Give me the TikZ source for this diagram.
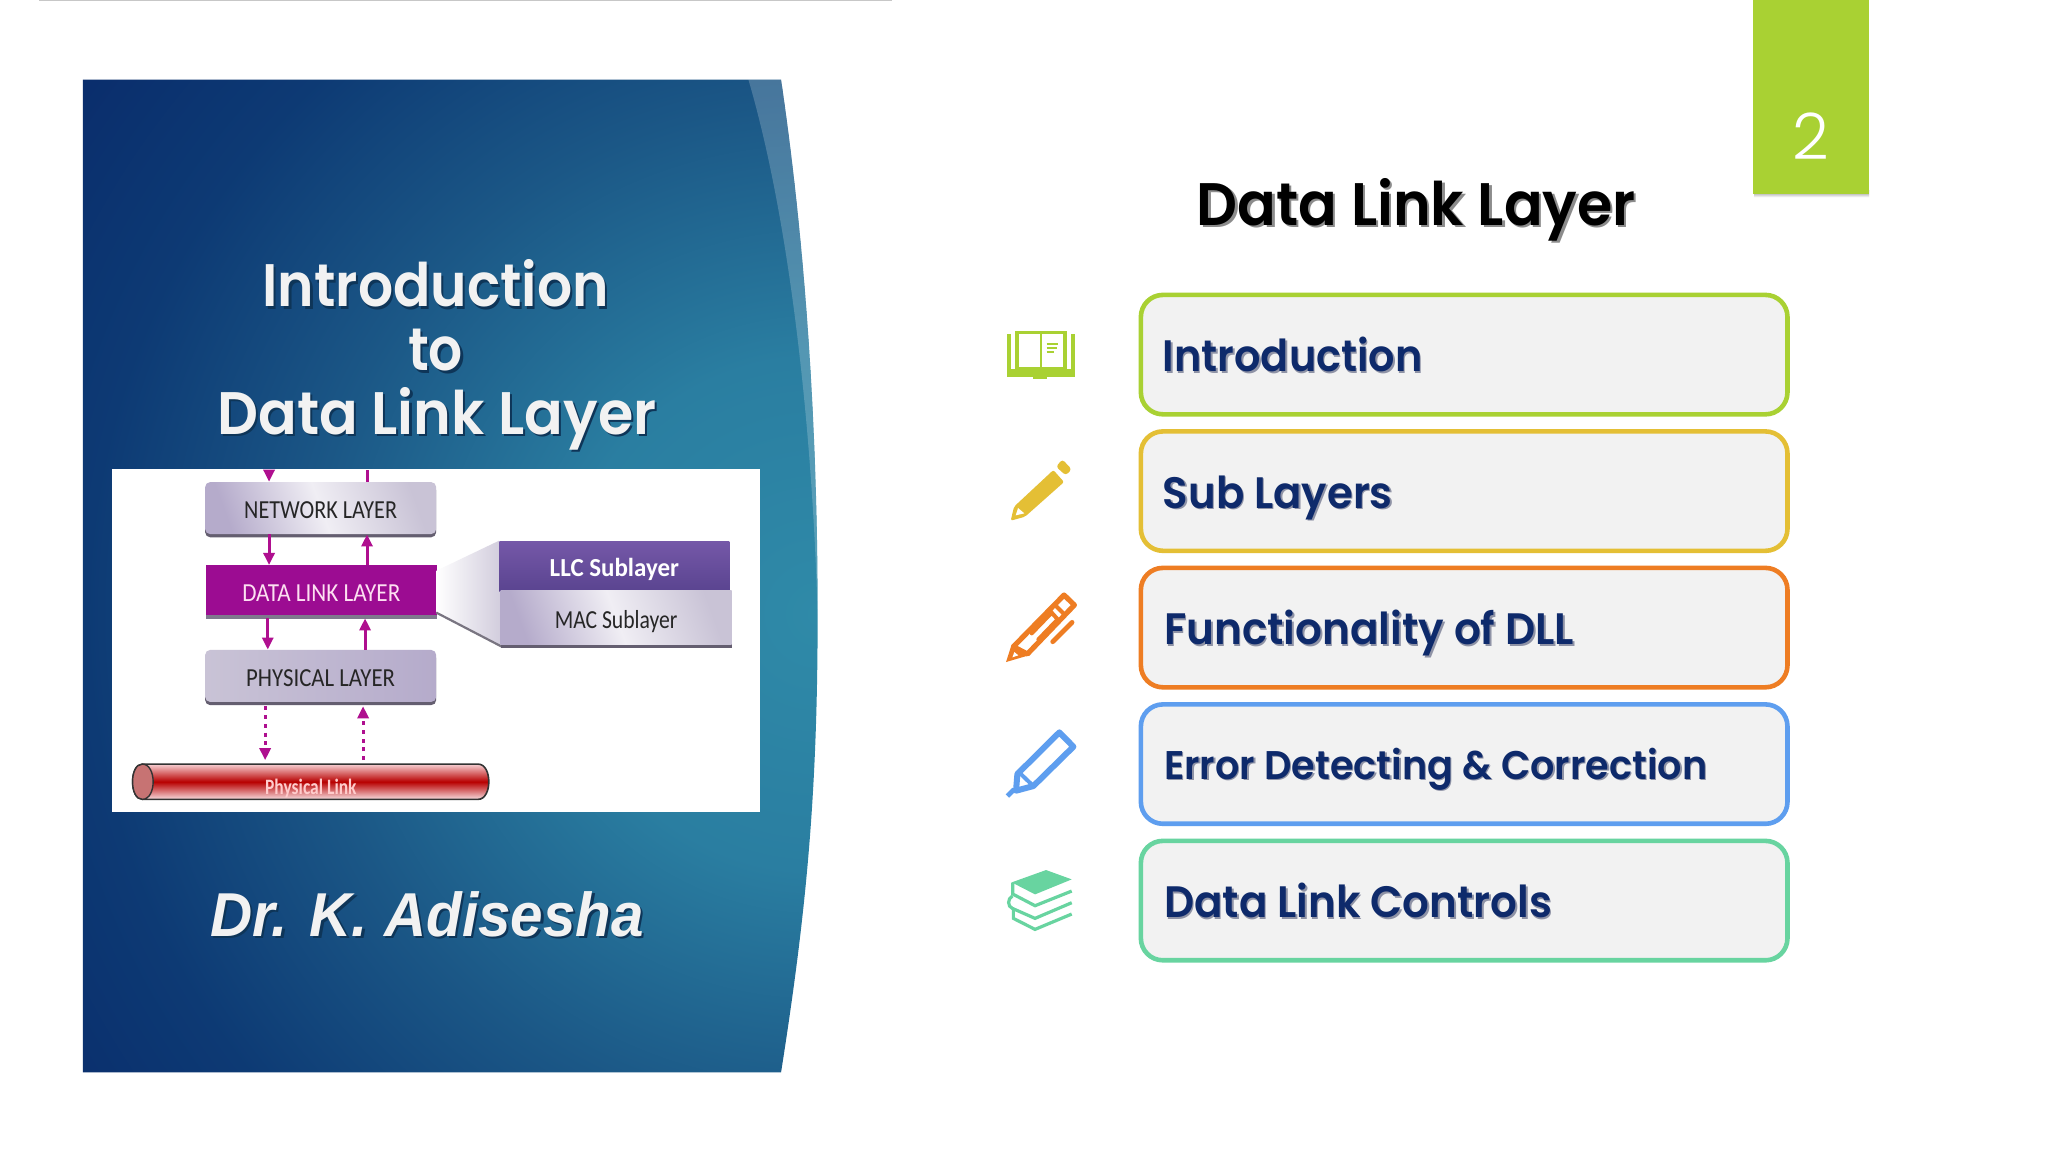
\documentclass[tikz,border=0pt]{standalone}
\usepackage{fontspec}
\usepackage{graphicx}
\usetikzlibrary{arrows.meta,shadows,calc}
\newfontfamily\pop{Poppins SemiBold}
\newfontfamily\popl{Poppins Light}
\newfontfamily\lib{Liberation Sans}
\newfontfamily\carl{Carlito}
\newlength\ovu \setlength\ovu{0.65306pt}
\newcommand\fw[2]{\resizebox{\dimexpr #1\ovu\relax}{\height}{#2}}
\newcommand\shd[4]{\rlap{\raisebox{-#3}{\hspace{#2}\textcolor{#1}{#4}}}#4}
\newcommand\lowr[1]{\raisebox{-5.4pt}[0pt][0pt]{#1}}
\definecolor{cA}{HTML}{A9D133}
\definecolor{cB}{HTML}{E4BF35}
\definecolor{cC}{HTML}{EE7D23}
\definecolor{cD}{HTML}{5E9EEF}
\definecolor{cE}{HTML}{68D4A0}
\definecolor{boxfill}{HTML}{F2F2F2}
\definecolor{navy}{HTML}{0E2A6B}
\definecolor{navyshadow}{HTML}{8F93A6}
\definecolor{arrowm}{HTML}{AF0F8F}
\definecolor{wshadow}{HTML}{0E3558}
\definecolor{lil}{HTML}{C9C3D6}
\definecolor{lilb}{HTML}{B5ABCB}
\definecolor{lilc}{HTML}{F0EEF4}
\definecolor{pa}{HTML}{2F8AA8}
\definecolor{pb}{HTML}{2A7EA1}
\definecolor{pc}{HTML}{1B5786}
\definecolor{pd}{HTML}{0D3A74}
\definecolor{pe}{HTML}{0A2D6C}
\definecolor{llct}{HTML}{7558A8}
\definecolor{llcb}{HTML}{5A4490}
\definecolor{dllc}{HTML}{9C0C92}
\pgfdeclareradialshading{panelrad}{\pgfpointorigin}{%
 color(0bp)=(pa);
 color(7bp)=(pb);
 color(14bp)=(pc);
 color(20bp)=(pd);
 color(25bp)=(pe);
 color(50bp)=(pe)}
\tikzset{
 itembox/.style={draw=#1,fill=boxfill,line width=2.3pt,rounded corners=11pt,minimum width=325.6pt-2.3pt,minimum height=62pt-2.3pt,inner sep=0pt},
 itemtext/.style={anchor=base west,inner sep=0pt,text=navy,font=\pop\fontsize{22}{26}\selectfont},
 headtext/.style={anchor=base,inner sep=0pt,text=boxfill,font=\pop\fontsize{30}{36}\selectfont},
 layerbox/.style={rounded corners=2.5pt,left color=lil,right color=lilb,middle color=lilc,shading angle=-70,
   drop shadow={shadow xshift=0pt,shadow yshift=-1.6pt,opacity=1,fill=black!45!lilb},
   minimum width=115pt,minimum height=26pt,inner sep=0pt,font=\carl\fontsize{13}{15}\selectfont,text=black!85},
 flow/.style={draw=arrowm,line width=1.5pt,-{Triangle[width=5.5pt,length=6pt]}},
 dotflow/.style={flow,line width=1.6pt,dash pattern=on 2pt off 2.4pt},
 zoomA/.style={x=0.166667pt,y=-0.166667pt,shift={(2970,900)}},
 zoomB/.style={x=0.166667pt,y=-0.166667pt,shift={(2970,2100)}},
}
\begin{document}
\begin{tikzpicture}[x=0.65306pt,y=-0.65306pt]
\useasboundingbox (0,0) rectangle (1568,882);
\fill[white] (0,0) rectangle (1568,882);
\draw[black!22,line width=0.8pt] (30,0.4) -- (683,0.4);
% left panel
\begin{scope}
\clip (63.5,61) -- (598,61) .. controls (617,190) and (626,330) .. (626,470) .. controls (626,610) and (617,700) .. (598,821) -- (63.5,821) -- cycle;
\shade[shading=panelrad] (626,470) circle (700);
\fill[white,opacity=0.2] (573,61) -- (598,61) .. controls (617,190) and (626,330) .. (626,470) .. controls (622,330) and (605,170) .. (573,61) -- cycle;
\end{scope}
\node[headtext] (h1) at (333.5,235) {\fw{265}{\shd{wshadow}{1.2pt}{1.2pt}{Introduction}}};
\node[headtext] (h2) at (333.5,284) {\fw{42}{\shd{wshadow}{1.2pt}{1.2pt}{to}}};
\node[headtext] (h3) at (334.5,332.5) {\fw{336}{\shd{wshadow}{1.2pt}{1.2pt}{Data Link Layer}}};
% picture inset
\fill[white] (86,359) rectangle (582,622);
\node[layerbox] (net) at (245.5,389) [minimum width=115.5pt] {\lowr{\fw{117}{NETWORK LAYER}}};
\node[layerbox,fill=none,shading=axis,left color=lil,right color=lilb] (phy) at (245.5,517.5) [minimum width=115.5pt] {\lowr{\fw{114}{PHYSICAL LAYER}}};
\node[draw=none,fill=dllc,rounded corners=0pt,minimum width=115.5pt,minimum height=25pt,inner sep=0pt,text=white!88!magenta,font=\carl\fontsize{13}{15}\selectfont,
   drop shadow={shadow xshift=0pt,shadow yshift=-1.6pt,opacity=1,fill=black!30!lilb}] (dll) at (246,452) {\lowr{\fw{121}{DATA LINK LAYER}}};
\coordinate (wa) at (334,437);
\coordinate (wb) at (334,469);
\shade[left color=white,right color=lil!85!white] (wa) -- (382,414) -- (384,495) -- (wb) -- cycle;
\draw[black!40!lil,line width=1.1pt] (wb) -- (384,495);
\node[draw=none,top color=llct,bottom color=llcb,minimum width=115pt,minimum height=25pt,inner sep=0pt,text=white,font=\carl\bfseries\fontsize{13}{15}\selectfont,anchor=north west] (llc) at (382,414) {\lowr{\fw{99}{LLC Sublayer}}};
\node[layerbox,rounded corners=0pt,anchor=north west,minimum width=115.5pt,minimum height=27pt] (mac) at (383,452) {\lowr{\fw{94}{MAC Sublayer}}};
\coordinate (x1) at (206,360);
\coordinate (x2) at (281,360);
\coordinate (x3) at (205,360);
\coordinate (x4) at (279.5,360);
\coordinate (x5) at (203,582);
\coordinate (x6) at (278,582);
\draw[flow] (x1) -- (x1 |- net.north);
\draw[draw=arrowm,line width=1.5pt] (x2) -- (x2 |- net.north);
\draw[flow] (x1 |- net.south) -- (x1 |- dll.north);
\draw[flow] (x2 |- dll.north) -- (x2 |- net.south);
\draw[flow] (x3 |- dll.south) ++(0,2) -- (x3 |- phy.north);
\draw[flow] (x4 |- phy.north) -- ($(x4 |- dll.south)+(0,2)$);
\draw[dotflow] ($(x5 |- phy.south)+(0,3)$) -- (x5);
\draw[dotflow] (x6) -- ($(x6 |- phy.south)+(0,3)$);
% physical link cylinder
\shade[top color=lil!50!red!30!white,bottom color=lil!60!red!25!white,middle color=red!72!black,draw=black!80,line width=0.8pt]
  (109,585) -- (366,585) .. controls (377,585) and (377,612) .. (366,612) -- (109,612) .. controls (99,612) and (99,585) .. (109,585) -- cycle;
\draw[fill=red!60!black!55!white,draw=black!80,line width=0.7pt] (109,585) .. controls (99,585) and (99,612) .. (109,612) .. controls (120,612) and (120,585) .. (109,585) -- cycle;
\node[inner sep=0pt,text=white!80!red,font=\carl\bfseries\fontsize{11}{13}\selectfont] (plink) at (238,604) {\fw{70}{Physical Link}};
% author
\node[anchor=base,inner sep=0pt,text=boxfill,font=\lib\bfseries\itshape\fontsize{31}{36}\selectfont] (auth) at (327,717) {\fw{332}{\shd{wshadow}{1.2pt}{1.2pt}{Dr. K. Adisesha}}};
% page number tab
\shade[top color=black!45,bottom color=white] (1343,146) rectangle (1431,151);
\node[fill=cA,minimum width=58.1pt,minimum height=98pt,inner sep=0pt,anchor=north west] (tab) at (1342,-2) {};
\node[text=white,inner sep=0pt,font=\popl\fontsize{32}{36}\selectfont] (num) at (1386,104) {2};
% title
\node[anchor=base west,inner sep=0pt,text=black,font=\pop\fontsize{30}{36}\selectfont] (title) at (916,172.5) {\fw{336}{\shd{black!45}{1.2pt}{1.2pt}{Data Link Layer}}};
% item boxes
\node[itembox=cA] (b1) at (1121,271.5) {};
\node[itembox=cB] (b2) at (1121,376) {};
\node[itembox=cC] (b3) at (1121,480.5) {};
\node[itembox=cD] (b4) at (1121,585) {};
\node[itembox=cE] (b5) at (1121,689.5) {};
\node[itemtext] (t1) at (890,284.5) {\fw{199}{\shd{navyshadow}{0.8pt}{0.8pt}{Introduction}}};
\node[itemtext] (t2) at (890,389) {\fw{176}{\shd{navyshadow}{0.8pt}{0.8pt}{Sub Layers}}};
\node[itemtext] (t3) at (891,493.5) {\fw{314}{\shd{navyshadow}{0.8pt}{0.8pt}{Functionality of DLL}}};
\node[itemtext,font=\pop\fontsize{20}{24}\selectfont] (t4) at (891,596.5) {\fw{416}{\shd{navyshadow}{0.8pt}{0.8pt}{Error Detecting \& Correction}}};
\node[itemtext] (t5) at (891,702.5) {\fw{297}{\shd{navyshadow}{0.8pt}{0.8pt}{Data Link Controls}}};
% icon: open book
\begin{scope}[zoomA]
\draw[cA,line width=1.8pt] (80,97) rectangle (225,205);
\draw[cA,line width=1.1pt] (152,97) -- (152,205);
\draw[cA,line width=1.9pt] (57,103) -- (57,226) -- (248,226) -- (248,103);
\fill[cA] (62,207) rectangle (243,226);
\fill[cA] (130,230) rectangle (172,238);
\draw[cA,line width=0.9pt] (170,131) -- (204,131) (170,144) -- (200,144) (170,157) -- (192,157);
% icon: pencil
\fill[cB,rounded corners=1pt] (62,662) -- (72,620) -- (190,510) -- (222,546) -- (105,650) -- cycle;
\fill[white] (77,646) -- (84,624) -- (103,640) -- cycle;
\fill[cB,rounded corners=1.5pt] (198,500) -- (217,478) -- (245,508) -- (227,526) -- cycle;
% icon: pen
\begin{scope}[cC]
\draw[line width=2.6pt,line join=round] (70,1040) -- (222,885) -- (253,915) -- (112,1062) -- cycle;
\fill[line join=round] (48,1086) -- (64,1036) -- (116,1066) -- cycle;
\fill[white] (67,1072) -- (73,1056) -- (85,1066) -- cycle;
\draw[line width=2.4pt,line cap=round] (188,1025) -- (246,967);
\draw[line width=2pt,line cap=round] (125,1000) -- (185,938) -- (203,958) -- (145,1018);
\draw[line width=2pt] (195,915) -- (225,945);
\end{scope}
\end{scope}
% icon: marker
\begin{scope}[zoomB,cD]
\draw[line width=3pt,line join=round] (208,97) -- (250,140) -- (130,258) -- (78,272) -- (82,222) -- cycle;
\draw[line width=2pt] (85,215) -- (130,258);
\draw[line width=2.4pt] (52,288) -- (72,268);
\end{scope}
% icon: books
\begin{scope}[zoomB,cE]
\fill (65,547) -- (168,510) -- (245,538) -- (135,583) -- cycle;
\draw[line width=1.6pt] (68,548) -- (68,582) -- (135,617) -- (245,573);
\draw[line width=1.6pt] (67,588) .. controls (52,595) and (52,620) .. (67,625) -- (135,655) -- (245,608);
\draw[line width=1.6pt] (70,628) -- (70,655) -- (135,688) -- (245,642);
\end{scope}
\end{tikzpicture}
\end{document}
